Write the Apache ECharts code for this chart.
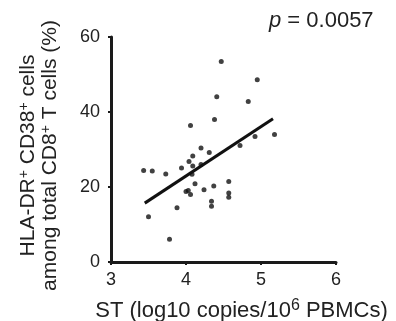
<!DOCTYPE html>
<html><head><meta charset="utf-8">
<script src="https://cdn.jsdelivr.net/npm/echarts@6/dist/echarts.min.js"></script>
<style>html,body{margin:0;padding:0;background:#fff}#c{width:396px;height:321px}</style>
</head><body><div id="c"></div>
<script>
var xTicks = [3, 4, 5, 6];
var yTicks = [0, 20, 40, 60];
var points = [
  [3.435, 24.4], [3.55, 24.3], [3.50, 12.1], [3.73, 23.5], [3.78, 6.1],
  [3.88, 14.5], [3.94, 25.1], [4.00, 18.8], [4.03, 19.1], [4.06, 18.0],
  [4.04, 26.8], [4.06, 36.4], [4.09, 28.3], [4.09, 25.6], [4.08, 23.4],
  [4.12, 20.9], [4.20, 30.4], [4.20, 26.0], [4.24, 19.3], [4.31, 29.2],
  [4.34, 16.2], [4.34, 14.9], [4.37, 20.3], [4.38, 38.0], [4.41, 44.1],
  [4.47, 53.5], [4.57, 21.5], [4.57, 18.4], [4.57, 17.3], [4.72, 31.1],
  [4.83, 42.8], [4.92, 33.5], [4.95, 48.6], [5.18, 34.0]
];
var regLine = [[3.45, 15.7], [5.16, 38.2]];
var pText = '0.0057';

var font = 'Liberation Sans, Arial, sans-serif';
var tc = '#222';
var chart = echarts.init(document.getElementById('c'), null, {renderer: 'canvas'});
chart.setOption({
  animation: false,
  grid: {left: 111, right: 60, top: 37, bottom: 59, containLabel: false, outerBoundsMode: 'none'},
  xAxis: {
    type: 'value', min: xTicks[0], max: xTicks[xTicks.length - 1], interval: 1,
    splitLine: {show: false},
    axisLine: {lineStyle: {color: '#1a1a1a', width: 3}},
    axisTick: {show: true, length: 3, lineStyle: {color: '#1a1a1a', width: 2}},
    axisLabel: {color: tc, fontSize: 18, fontFamily: font, margin: 9},
    name: 'ST (log10 copies/10{sup|6} PBMCs)',
    nameLocation: 'middle', nameGap: 36,
    nameTextStyle: {color: tc, fontSize: 22, fontFamily: font, padding: [0, 0, 0, 36],
      rich: {sup: {fontSize: 16, verticalAlign: 'top', padding: [0, 0, 9, 0], color: tc, fontFamily: font}}}
  },
  yAxis: {
    type: 'value', min: yTicks[0], max: yTicks[yTicks.length - 1], interval: 20,
    splitLine: {show: false},
    axisLine: {show: true, lineStyle: {color: '#1a1a1a', width: 3}},
    axisTick: {show: true, length: 3, lineStyle: {color: '#1a1a1a', width: 2}},
    axisLabel: {color: tc, fontSize: 18, fontFamily: font, margin: 11},
    name: 'HLA-DR{sup|+} CD38{sup|+} cells\namong total CD8{sup|+} T cells (%)',
    nameLocation: 'middle', nameGap: 50, nameRotate: 90,
    nameTextStyle: {color: tc, fontSize: 21, fontFamily: font, lineHeight: 22, padding: [0, 12, 0, 0],
      rich: {sup: {fontSize: 14, verticalAlign: 'top', padding: [0, 0, 9, 0], color: tc, fontFamily: font}}}
  },
  graphic: [{
    type: 'text', left: 269, top: 10,
    style: {text: '{i|p} = ' + pText, fill: tc, font: '22px ' + font,
      rich: {i: {fontStyle: 'italic', fontSize: 22, fontFamily: font, fill: tc}}}
  }],
  series: [
    {type: 'scatter', data: points, symbolSize: 5, itemStyle: {color: '#111'}, z: 3},
    {type: 'line', data: regLine, showSymbol: false, symbol: 'none',
      lineStyle: {color: '#111', width: 3}, z: 2}
  ]
});
</script></body></html>
